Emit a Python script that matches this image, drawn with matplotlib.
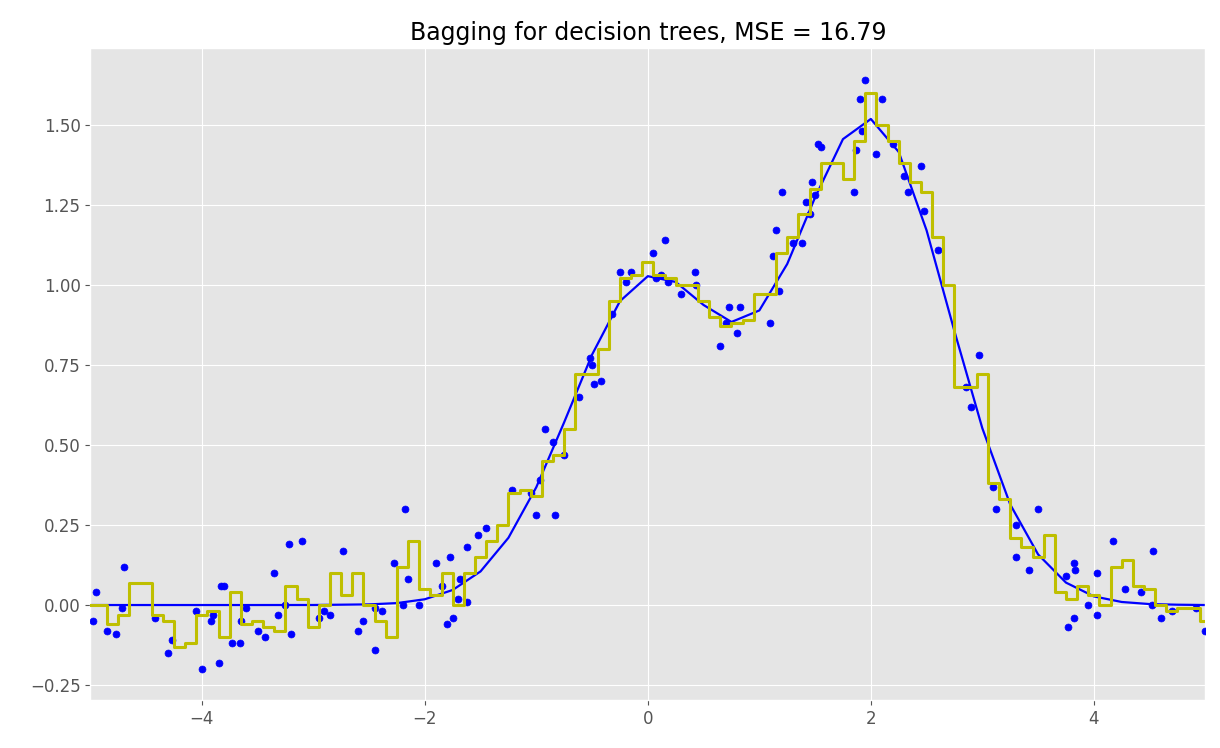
import matplotlib
matplotlib.use("Agg")
import matplotlib.pyplot as plt

plt.style.use("ggplot")

curve_x = [-5, -4.5, -4, -3.5, -3, -2.5, -2.25, -2, -1.75, -1.5, -1.25, -1, -0.75, -0.5, -0.25, 0,
           0.25, 0.5, 0.75, 1, 1.25, 1.5, 1.75, 2, 2.25, 2.5, 2.75, 3, 3.25, 3.5, 3.75, 4, 4.25, 4.5, 4.75, 5]
curve_y = [0, 0, 0, 0, 0.0001, 0.002, 0.006, 0.018, 0.047, 0.105, 0.210, 0.368, 0.571, 0.782, 0.949, 1.027,
           1.009, 0.937, 0.884, 0.920, 1.065, 1.273, 1.455, 1.518, 1.415, 1.170, 0.855, 0.552, 0.314, 0.158,
           0.070, 0.027, 0.0095, 0.003, 0.001, 0.0]

bag_x = [round(-5 + 0.1 * i, 1) for i in range(101)]
bag_y = [0.0, 0.0, -0.06, -0.03, 0.07, 0.07, -0.03, -0.05, -0.13, -0.12, -0.03, -0.02, -0.1, 0.04, -0.06,
         -0.05, -0.07, -0.08, 0.06, 0.02, -0.07, 0.0, 0.1, 0.03, 0.1, 0.0, -0.05, -0.1, 0.12, 0.2,
         0.05, 0.03, 0.1, 0.0, 0.1, 0.15, 0.2, 0.25, 0.35, 0.36, 0.34, 0.45, 0.47, 0.55, 0.72,
         0.72, 0.8, 0.95, 1.02, 1.03, 1.07, 1.03, 1.02, 1.0, 1.0, 0.95, 0.9, 0.87, 0.88, 0.89,
         0.97, 0.97, 1.1, 1.15, 1.22, 1.3, 1.38, 1.38, 1.33, 1.45, 1.6, 1.5, 1.45, 1.38, 1.32,
         1.29, 1.15, 1.0, 0.68, 0.68, 0.72, 0.38, 0.33, 0.21, 0.18, 0.15, 0.22, 0.04, 0.02, 0.06,
         0.03, 0.0, 0.12, 0.14, 0.06, 0.05, 0.0, -0.02, -0.01, -0.01, -0.05]

pts = [(-4.98,-0.05),(-4.95,0.04),(-4.85,-0.08),(-4.77,-0.09),(-4.72,-0.01),(-4.7,0.12),(-4.42,-0.04),
       (-4.3,-0.15),(-4.27,-0.11),(-4.05,-0.02),(-4.0,-0.2),(-3.92,-0.05),(-3.9,-0.03),(-3.85,-0.18),
       (-3.83,0.06),(-3.8,0.06),(-3.73,-0.12),(-3.66,-0.12),(-3.65,-0.05),(-3.6,-0.01),(-3.5,-0.08),
       (-3.43,-0.1),(-3.35,0.1),(-3.32,-0.03),(-3.25,0.0),(-3.22,0.19),(-3.2,-0.09),(-3.1,0.2),
       (-2.95,-0.04),(-2.9,-0.02),(-2.85,-0.03),(-2.73,0.17),(-2.6,-0.08),(-2.55,-0.05),(-2.45,-0.14),
       (-2.45,-0.01),(-2.38,-0.02),(-2.28,0.13),(-2.2,0.0),(-2.18,0.3),(-2.15,0.08),(-2.05,0.0),
       (-1.9,0.13),(-1.85,0.06),(-1.8,-0.06),(-1.77,0.15),(-1.75,-0.04),(-1.7,0.02),(-1.68,0.08),
       (-1.62,0.01),(-1.62,0.18),(-1.52,0.22),(-1.45,0.24),(-1.22,0.36),(-1.05,0.35),(-1.0,0.28),
       (-0.97,0.39),(-0.92,0.55),(-0.85,0.51),(-0.83,0.28),(-0.75,0.47),(-0.62,0.65),(-0.52,0.77),
       (-0.5,0.75),(-0.48,0.69),(-0.42,0.7),(-0.32,0.91),(-0.25,1.04),(-0.2,1.01),(-0.15,1.04),
       (0.05,1.1),(0.07,1.02),(0.12,1.03),(0.15,1.14),(0.18,1.01),(0.3,0.97),(0.42,1.04),(0.43,1.0),
       (0.65,0.81),(0.7,0.88),(0.73,0.93),(0.8,0.85),(0.83,0.93),(1.1,0.88),(1.12,1.09),(1.15,1.17),
       (1.18,0.98),(1.2,1.29),(1.3,1.13),(1.38,1.13),(1.42,1.26),(1.45,1.22),(1.47,1.32),(1.5,1.28),
       (1.53,1.44),(1.55,1.43),(1.85,1.29),(1.87,1.42),(1.9,1.58),(1.92,1.48),(1.95,1.64),(2.05,1.41),
       (2.1,1.58),(2.2,1.44),(2.3,1.34),(2.33,1.29),(2.45,1.37),(2.48,1.23),(2.6,1.11),(2.85,0.68),
       (2.9,0.62),(2.97,0.78),(3.1,0.37),(3.12,0.3),(3.3,0.25),(3.3,0.15),(3.42,0.11),(3.5,0.3),
       (3.75,0.09),(3.77,-0.07),(3.82,0.13),(3.83,0.11),(3.82,-0.04),(3.95,0.0),(4.03,0.1),(4.03,-0.03),
       (4.17,0.2),(4.28,0.05),(4.42,0.04),(4.52,0.0),(4.53,0.17),(4.6,-0.04),(4.7,-0.02),(4.92,-0.01),
       (5.0,-0.08)]
pts_x = [p[0] for p in pts]
pts_y = [p[1] for p in pts]

fig = plt.figure(figsize=(12.2, 7.48), dpi=100)
ax = fig.add_axes([0.074, 0.064, 0.914, 0.872])
ax.plot(curve_x, curve_y, color="b", lw=1.6)
ax.scatter(pts_x, pts_y, c="b", s=25, zorder=3)
ax.plot(bag_x, bag_y, color="y", lw=2.2, drawstyle="steps-mid", zorder=4)
ax.set_xlim(-5, 5)
ax.set_ylim(-0.297, 1.74)
ax.set_xticks([-4, -2, 0, 2, 4])
ax.set_yticks([-0.25, 0, 0.25, 0.5, 0.75, 1.0, 1.25, 1.5])
ax.set_yticklabels(["−0.25", "0.00", "0.25", "0.50", "0.75", "1.00", "1.25", "1.50"])
ax.set_xticklabels(["−4", "−2", "0", "2", "4"])
ax.tick_params(labelsize=12)
ax.set_title("Bagging for decision trees, MSE = 16.79", fontsize=17)
fig.savefig("out.png", dpi=100)
